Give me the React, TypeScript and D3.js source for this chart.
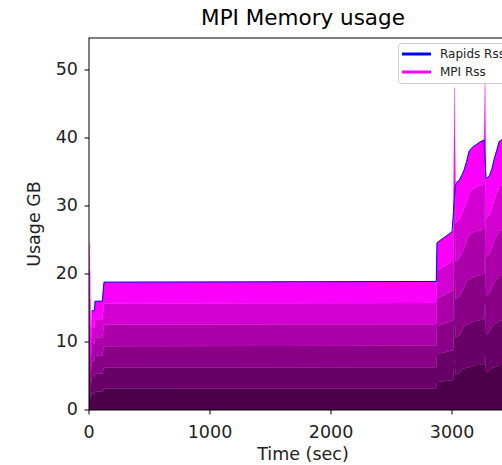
import React from "react";
import * as d3 from "d3";

const times = [0, 6, 12, 22, 45, 50, 110, 124, 2870, 2876, 3000, 3012, 3020, 3028, 3040, 3060, 3080, 3100, 3120, 3140, 3160, 3180, 3200, 3230, 3265, 3273, 3281, 3290, 3310, 3330, 3350, 3370, 3390, 3410, 3450, 3537];

const proc1 = [2.0, 4.08, 1.5, 2.43, 2.43, 2.67, 2.67, 3.13, 3.15, 4.1, 4.37, 4.4, 7.9, 5.2, 5.3, 5.4, 6.0, 6.1, 6.2, 6.3, 6.4, 6.5, 6.6, 6.6, 6.7, 8.0, 5.5, 5.6, 5.9, 6.2, 6.3, 6.4, 6.6, 6.6, 6.7, 6.7];
const proc2 = [2.0, 4.08, 1.5, 2.43, 2.43, 2.67, 2.67, 3.13, 3.15, 4.1, 4.37, 4.4, 7.9, 5.5, 5.5, 5.6, 5.6, 6.2, 6.3, 6.4, 6.5, 6.5, 6.5, 6.6, 6.6, 8.0, 5.6, 5.6, 5.6, 6.1, 6.3, 6.4, 6.6, 6.6, 6.7, 6.7];
const proc3 = [2.0, 4.08, 1.5, 2.43, 2.43, 2.67, 2.67, 3.13, 3.15, 4.1, 4.37, 4.4, 7.9, 5.6, 5.6, 5.6, 5.7, 5.7, 6.4, 6.5, 6.5, 6.6, 6.6, 6.6, 6.6, 8.0, 5.7, 5.7, 5.7, 5.7, 6.3, 6.4, 6.6, 6.6, 6.6, 6.7];
const proc4 = [2.0, 4.08, 1.5, 2.43, 2.43, 2.67, 2.67, 3.13, 3.15, 4.1, 4.37, 4.4, 7.9, 5.5, 5.6, 5.7, 5.7, 5.8, 5.8, 6.5, 6.5, 6.5, 6.6, 6.6, 6.6, 8.0, 5.7, 5.7, 5.7, 5.8, 6.1, 6.4, 6.6, 6.6, 6.7, 6.7];
const proc5 = [2.0, 4.08, 1.5, 2.43, 2.43, 2.67, 2.67, 3.13, 3.15, 4.1, 4.37, 4.4, 7.9, 5.6, 5.7, 5.7, 5.8, 5.8, 5.9, 6.0, 6.4, 6.5, 6.5, 6.6, 6.6, 8.0, 5.7, 5.7, 5.8, 5.8, 5.9, 6.3, 6.5, 6.6, 6.6, 6.7];
const proc6 = [2.0, 4.1, 1.5, 2.45, 2.45, 2.65, 2.65, 3.15, 3.15, 4.1, 4.37, 4.4, 7.9, 5.6, 5.8, 5.8, 5.7, 5.7, 5.9, 6.3, 6.2, 6.2, 6.2, 6.4, 6.6, 8.0, 5.8, 5.8, 5.8, 5.9, 6.1, 6.3, 6.6, 6.7, 6.7, 6.7];

const rapidsTimes = [22, 45, 50, 110, 124, 2870, 2876, 3000, 3028, 3040, 3060, 3080, 3100, 3120, 3140, 3160, 3180, 3200, 3230, 3265, 3281, 3290, 3310, 3330, 3350, 3370, 3390, 3410, 3450, 3537];
const rapidsRss = [14.6, 14.6, 16.0, 16.0, 18.8, 18.9, 24.6, 26.2, 33.0, 33.5, 33.8, 34.5, 35.3, 36.5, 38.0, 38.5, 38.8, 39.0, 39.4, 39.7, 34.0, 34.1, 34.5, 35.5, 37.0, 38.2, 39.5, 39.7, 40.0, 40.2];

const processes = [proc1, proc2, proc3, proc4, proc5, proc6];
const layerColors = ["#4b0049", "#690067", "#890087", "#ac00aa", "#d200d0", "#fb00fb"];

const xTicks = [0, 1000, 2000, 3000];
const yTicks = [0, 10, 20, 30, 40, 50];
const legendLabels = ["Rapids Rss", "MPI Rss"];
const legendColors = ["#0000ff", "#ff00ff"];

const W = 502;
const H = 465;
const left = 89;
const right = 517;
const top = 38;
const bottom = 410;

export default function App() {
  const x = d3.scaleLinear().domain([0, 3537]).range([left, right]);
  const y = d3.scaleLinear().domain([0, 54.7]).range([bottom, top]);

  const rows = times.map((t, i) => {
    const r: any = { t };
    processes.forEach((p, k) => (r["p" + k] = p[i]));
    return r;
  });
  const keys = processes.map((_, k) => "p" + k);
  const series = d3.stack().keys(keys)(rows);

  const area = d3
    .area<any>()
    .x((d) => x(d.data.t))
    .y0((d) => y(d[0]))
    .y1((d) => y(d[1]));

  const rapidsLine = d3
    .line<number>()
    .x((_, i) => x(rapidsTimes[i]))
    .y((d) => y(d));

  const font = "DejaVu Sans, sans-serif";
  const tickFont = 17.5;

  return (
    <svg
      width={W}
      height={H}
      style={{ position: "absolute", left: 0, top: 0, background: "#fff" }}
      fontFamily={font}
    >
      <defs>
        <clipPath id="plotclip">
          <rect x={left} y={top} width={right - left} height={bottom - top} />
        </clipPath>
      </defs>
      <rect x={0} y={0} width={W} height={H} fill="#fff" />
      <g clipPath="url(#plotclip)">
        {series.map((s, k) => (
          <path key={k} d={area(s as any) || ""} fill={layerColors[k]} stroke={layerColors[k]} strokeWidth={0.3} />
        ))}
        <path d={rapidsLine(rapidsRss) || ""} fill="none" stroke="#0000ff" strokeWidth={1} />
      </g>
      <rect x={left} y={top} width={right - left} height={bottom - top} fill="none" stroke="#000" strokeWidth={1} />
      {xTicks.map((t) => (
        <g key={t} transform={`translate(${x(t)},${bottom})`}>
          <line y1={0} y2={4.5} stroke="#000" />
          <text y={23} textAnchor="middle" fontSize={tickFont} fill="#222" dominantBaseline="middle">
            {t}
          </text>
        </g>
      ))}
      {yTicks.map((t) => (
        <g key={t} transform={`translate(${left},${y(t)})`}>
          <line x1={-4.5} x2={0} stroke="#000" />
          <text x={-11} textAnchor="end" dominantBaseline="middle" fontSize={tickFont} fill="#222">
            {t}
          </text>
        </g>
      ))}
      <text x={(left + right) / 2} y={455} textAnchor="middle" fontSize={tickFont} fill="#222" dominantBaseline="middle">
        Time (sec)
      </text>
      <text
        transform={`translate(35,${(top + bottom) / 2}) rotate(-90)`}
        textAnchor="middle"
        dominantBaseline="middle"
        fontSize={tickFont}
        fill="#222"
      >
        Usage GB
      </text>
      <text x={(left + right) / 2} y={19} textAnchor="middle" dominantBaseline="middle" fontSize={21.5} fill="#000">
        MPI Memory usage
      </text>
      <rect x={398.5} y={43.5} width={116} height={40} rx={3} fill="#fff" fillOpacity={0.85} stroke="#ccc" />
      {legendLabels.map((l, i) => (
        <g key={l} transform={`translate(402,${54 + i * 18})`}>
          <line x1={0} x2={29} stroke={legendColors[i]} strokeWidth={3} />
          <text x={38} dominantBaseline="middle" fontSize={12} fill="#222">
            {l}
          </text>
        </g>
      ))}
    </svg>
  );
}
